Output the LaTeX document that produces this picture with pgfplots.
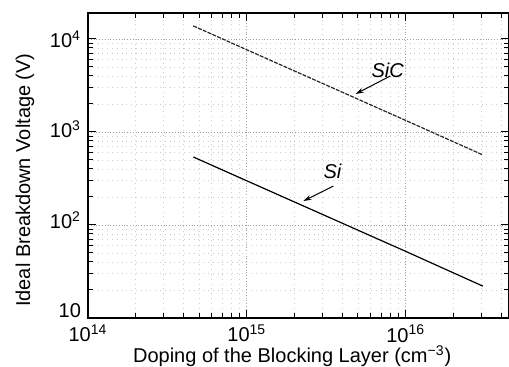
\documentclass[border=0pt]{standalone}
\usepackage{pgfplots}
\pgfplotsset{compat=1.18}
\usepackage{fontspec}
\setmainfont{Liberation Sans}
\usetikzlibrary{arrows.meta}
\begin{document}
\begin{tikzpicture}
\useasboundingbox (-44pt,-24.5pt) rectangle (210.5pt,159pt);
\begin{axis}[
  at={(0,0)}, anchor=south west,
  scale only axis, width=210.5pt, height=152.5pt,
  xmode=log, ymode=log, log basis x=10, log basis y=10,
  xmin=1e14, xmax=4.47e16, ymin=10, ymax=1.9e4,
  xtick={1e14,1e15,1e16}, ytick={10,100,1000,10000},
  minor xtick={2e14,3e14,4e14,5e14,6e14,7e14,8e14,9e14,2e15,3e15,4e15,5e15,6e15,7e15,8e15,9e15,2e16,3e16,4e16},
  minor ytick={20,30,40,50,60,70,80,90,200,300,400,500,600,700,800,900,2000,3000,4000,5000,6000,7000,8000,9000},
  axis line style={line width=0.8pt},
  tick align=inside,
  major tick length=4pt, minor tick length=2.5pt,
  tick style={black, line width=0.5pt},
  xticklabel={\pgfmathparse{int(round(\tick))}10\textsuperscript{\pgfmathresult}},
  yticklabel={\pgfmathparse{int(round(\tick))}\ifcase\pgfmathresult\or\raisebox{7pt}{10}\or\raisebox{5pt}{10\textsuperscript{2}}\or\raisebox{3pt}{10\textsuperscript{3}}\else 10\textsuperscript{\pgfmathresult}\fi},
  grid=both,
  major grid style={densely dotted, gray!75},
  minor grid style={dotted, gray!40},
  xlabel={Doping of the Blocking Layer (cm\textsuperscript{−3})},
  ylabel={Ideal Breakdown Voltage (V)},
  xlabel style={at={(axis description cs:0.485,-0.125)}, anchor=center},
  ylabel style={at={(axis description cs:-0.1496,0.452)}, anchor=center},
]
\addplot[black!85, line width=0.6pt, dash pattern=on 2pt off 0.6pt] coordinates {
  (4.6e14,1.38e4) (1e15,7640) (1e16,1330) (3.06e16,566)
};
\addplot[black, line width=0.6pt] coordinates {
  (4.6e14,538) (1e15,298) (1e16,52) (3.06e16,22)
};
\node[font=\itshape] at (axis cs:7.7e15,4640) {SiC};
\draw[-{Stealth[length=4pt,width=2.5pt]}, line width=0.5pt] (axis cs:8.0e15,4000) -- (axis cs:4.84e15,2560);
\node[font=\itshape] at (axis cs:3.46e15,381) {Si};
\draw[-{Stealth[length=4pt,width=2.5pt]}, line width=0.5pt] (axis cs:3.5e15,262) -- (axis cs:2.27e15,181);
\end{axis}
\end{tikzpicture}
\end{document}
